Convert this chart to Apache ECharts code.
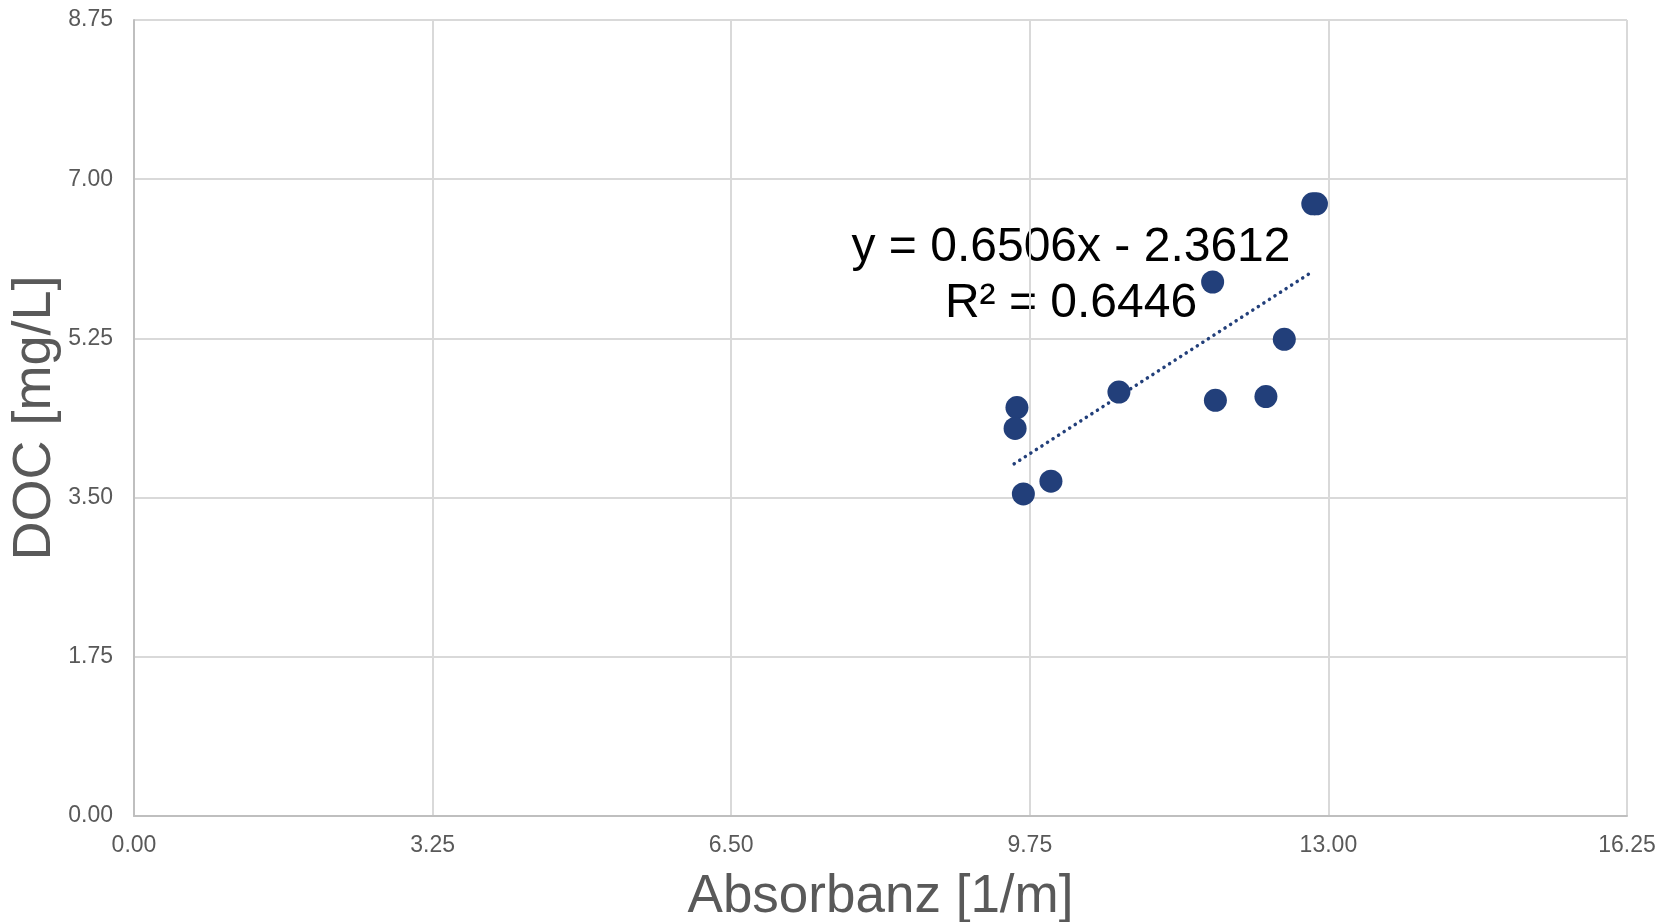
<!DOCTYPE html>
<html>
<head>
<meta charset="utf-8">
<script src="https://cdn.jsdelivr.net/npm/echarts@6/dist/echarts.min.js"></script>
<style>
    html, body { margin: 0; padding: 0; background: #fff; }
    #chart { width: 1670px; height: 922px; }
</style>
</head>
<body>
<div id="chart"></div>
<script>
const absorbanz = [12.83, 12.87, 11.74, 12.52, 10.72, 11.77, 12.32, 9.61, 9.59, 9.98, 9.68];
const doc = [6.73, 6.73, 5.87, 5.24, 4.66, 4.57, 4.61, 4.49, 4.26, 3.68, 3.54];

// linear trendline as printed on the chart
const slope = 0.6506;
const intercept = -2.3612;
const rSquared = 0.6446;
const trendX = [9.58, 12.81];

const xTicks = [0, 3.25, 6.5, 9.75, 13, 16.25];
const yTicks = [0, 1.75, 3.5, 5.25, 7, 8.75];

const textColor = '#595959';
const pointColor = '#223f7a';

const chart = echarts.init(document.getElementById('chart'));

const points = absorbanz.map((x, i) => [x, doc[i]]);
const trend = trendX.map(x => [x, slope * x + intercept]);

const option = {
    animation: false,
    grid: {
        left: 134,
        right: 43,
        top: 20,
        bottom: 106,
        outerBoundsMode: 'none'
    },
    xAxis: {
        type: 'value',
        min: xTicks[0],
        max: xTicks[xTicks.length - 1],
        interval: 3.25,
        name: 'Absorbanz [1/m]',
        nameLocation: 'middle',
        nameGap: 55,
        nameTextStyle: {
            fontFamily: 'Liberation Sans',
            fontSize: 53,
            color: textColor
        },
        axisLine: { show: true, lineStyle: { color: '#bfbfbf', width: 2 } },
        axisTick: { show: false },
        axisLabel: {
            margin: 18,
            fontFamily: 'Liberation Sans',
            fontSize: 23,
            color: textColor,
            formatter: v => v.toFixed(2)
        },
        splitLine: { show: true, lineStyle: { color: '#d9d9d9', width: 2 } }
    },
    yAxis: {
        type: 'value',
        min: yTicks[0],
        max: yTicks[yTicks.length - 1],
        interval: 1.75,
        name: 'DOC [mg/L]',
        nameLocation: 'middle',
        nameGap: 72,
        nameMoveOverlap: false,
        nameTextStyle: {
            fontFamily: 'Liberation Sans',
            fontSize: 54,
            color: textColor
        },
        axisLine: { show: true, lineStyle: { color: '#bfbfbf', width: 2 } },
        axisTick: { show: false },
        axisLabel: {
            margin: 21,
            fontFamily: 'Liberation Sans',
            fontSize: 23,
            color: textColor,
            formatter: v => v.toFixed(2)
        },
        splitLine: { show: true, lineStyle: { color: '#d9d9d9', width: 2 } }
    },
    series: [
        {
            type: 'line',
            data: trend,
            symbol: 'none',
            lineStyle: { color: pointColor, width: 3.5, type: [0.1, 6.5], cap: 'round' },
            z: 1
        },
        {
            type: 'scatter',
            data: points,
            symbolSize: 23,
            itemStyle: { color: pointColor, opacity: 1 },
            z: 2
        }
    ],
    graphic: [
        {
            type: 'text',
            x: 1071,
            y: 220,
            style: {
                text: 'y = ' + slope + 'x - ' + Math.abs(intercept) + '\nR² = ' + rSquared,
                align: 'center',
                lineHeight: 56,
                fontFamily: 'Liberation Sans',
                fontSize: 48,
                fill: '#000'
            }
        }
    ]
};

chart.setOption(option);
</script>
</body>
</html>
